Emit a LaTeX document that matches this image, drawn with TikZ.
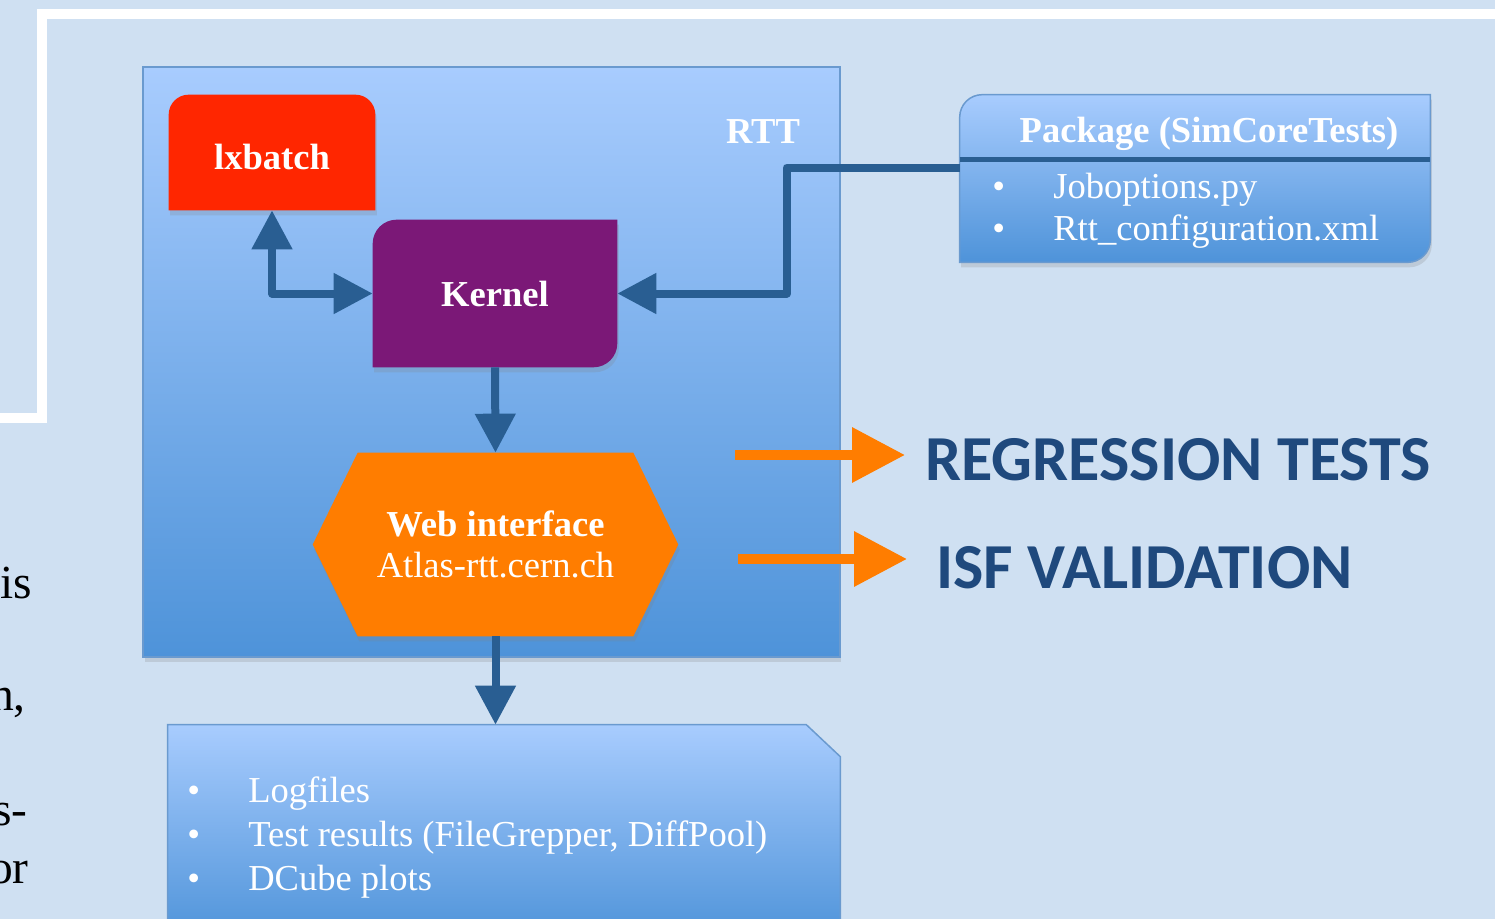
\documentclass[tikz,border=0pt]{standalone}
\usepackage{fontspec}
\setmainfont{Liberation Serif}
\newfontfamily\capsfont{Carlito}
\usetikzlibrary{arrows.meta,positioning,shadows,calc}

\definecolor{paperblue}{HTML}{CFE0F2}
\definecolor{platetop}{HTML}{A8CCFE}
\definecolor{platebottom}{HTML}{4E93D9}
\definecolor{plateedge}{HTML}{6A9ACF}
\definecolor{flowblue}{HTML}{295E92}
\definecolor{batchred}{HTML}{FF2600}
\definecolor{kernelpurple}{HTML}{7B1877}
\definecolor{weborange}{HTML}{FF7D00}
\definecolor{titleblue}{HTML}{1F497D}

\pgfdeclarelayer{paper}
\pgfdeclarelayer{plates}
\pgfsetlayers{paper,plates,main}

\begin{document}
\begin{tikzpicture}[
  x=0.02cm, y=-0.02cm,
  every node/.style={inner sep=0pt, text=white, font=\fontsize{20.8}{23}\selectfont},
  holder/.style={rectangle, align=center, font=\fontsize{20.8}{23}\selectfont\bfseries},
  batch/.style={holder, minimum width=4.12cm, minimum height=2.3cm, text height=0.7cm},
  kernelbox/.style={holder, minimum width=4.88cm, minimum height=2.94cm, text height=0.54cm},
  webbox/.style={holder, minimum width=7.3cm, minimum height=3.66cm},
  pkgbox/.style={rectangle, minimum width=9.4cm, minimum height=3.34cm},
  outbox/.style={rectangle, minimum width=13.44cm, minimum height=4.3cm},
  plate/.style={draw=plateedge, line width=0.03cm, top color=platetop, bottom color=platebottom},
  softshadow/.style={drop shadow={shadow xshift=0.03cm, shadow yshift=-0.1cm, opacity=0.22}},
  item/.style={anchor=base west},
  flow/.style={draw=flowblue, line width=0.16cm, line join=round,
    >={Triangle[length=0.78cm,width=0.78cm]}},
  hot/.style={draw=weborange, line width=0.2cm, -{Triangle[length=1.06cm,width=1.06cm]}},
  bigcaps/.style={anchor=base west, text=titleblue,
    font=\capsfont\bfseries\fontsize{36.5}{40}\selectfont},
  margintext/.style={anchor=base east, text=black, font=\fontsize{27}{32}\selectfont},
]
\useasboundingbox (0,0) rectangle (1495,919);

% Hintergrund
\begin{pgfonlayer}{paper}
  \fill[paperblue] (0,0) rectangle (1495,919);
  \draw[white, line width=0.2cm] (1510,14) -- (42,14) -- (42,418) -- (-10,418);
  \node[plate, softshadow, minimum width=13.94cm, minimum height=11.8cm] (rtt) at (491.5,362) {};
\end{pgfonlayer}

% Textreste links
\node[margintext, anchor=base west] (fragis) at (0,598) {is};
\node[margintext] (fragh) at (26,710) {h,};
\node[margintext] (frags) at (28,825) {s-};
\node[margintext] (fragor) at (29,883) {or};

% RTT-Bausteine
\node[holder] (rttlabel) at (763,132) {RTT};
\node[batch] (lx) at (272,152.5) {lxbatch};
\node[kernelbox] (kern) at (495,293.5) {Kernel};
\node[webbox] (web) at (495.5,544.5) {Web interface\\{\mdseries Atlas-rtt.cern.ch}};

% Paket
\node[pkgbox] (pkg) at (1195,178.5) {};
\node[anchor=base, font=\fontsize{20.8}{23}\selectfont\bfseries] (pkgtitle) at (1209,143) {Package (SimCoreTests)};
\node[item] (jobopt) at (992,198) {\makebox[1.22cm][l]{\textbullet}Joboptions.py};
\node[item] (rttconf) at (992,240) {\makebox[1.22cm][l]{\textbullet}Rtt\_configuration.xml};

% Ausgabe
\node[outbox] (out) at (504,832.5) {};
\node[item] (logs) at (187,802) {\makebox[1.22cm][l]{\textbullet}Logfiles};
\node[item] (tests) at (187,846) {\makebox[1.22cm][l]{\textbullet}Test results (FileGrepper, DiffPool)};
\node[item] (dcube) at (187,890) {\makebox[1.22cm][l]{\textbullet}DCube plots};

% Ergebnisse
\node[bigcaps] (regress) at (925,480) {REGRESSION TESTS};
\node[bigcaps] (isfval) at (936,588) {ISF VALIDATION};

% Flaechen der Bausteine
\begin{pgfonlayer}{plates}
  \fill[batchred, softshadow] (lx.south west) -- ([yshift=-0.4cm]lx.north west)
    arc[start angle=180, end angle=90, radius=0.4cm] -- ([xshift=-0.4cm]lx.north east)
    arc[start angle=90, end angle=0, radius=0.4cm] -- (lx.south east) -- cycle;
  \fill[kernelpurple, softshadow] (kern.south west) -- ([yshift=-0.48cm]kern.north west)
    arc[start angle=180, end angle=90, radius=0.48cm] -- (kern.north east)
    -- ([yshift=0.48cm]kern.south east)
    arc[start angle=0, end angle=-90, radius=0.48cm] -- cycle;
  \fill[weborange, softshadow] (web.west) -- ([xshift=0.9cm]web.north west)
    -- ([xshift=-0.9cm]web.north east) -- (web.east)
    -- ([xshift=-0.9cm]web.south east) -- ([xshift=0.9cm]web.south west) -- cycle;
  \path[plate, softshadow] (pkg.south west) -- ([yshift=-0.45cm]pkg.north west)
    arc[start angle=180, end angle=90, radius=0.45cm] -- (pkg.north east)
    -- ([yshift=0.45cm]pkg.south east)
    arc[start angle=0, end angle=-90, radius=0.45cm] -- cycle;
  \path[plate] (out.south west) -- (out.north west) -- ([xshift=-0.68cm]out.north east)
    -- ([yshift=-0.64cm]out.north east) -- (out.south east) -- cycle;
  \draw[flowblue, line width=0.09cm] ([yshift=-1.3cm]pkg.north west) -- ([yshift=-1.3cm]pkg.north east);
\end{pgfonlayer}

% Verbindungen
\coordinate (pkgport) at ([yshift=-1.46cm]pkg.north west);
\draw[flow, <->] (lx.south) |- (kern.west);
\draw[flow, ->] (pkgport) -- ++(-173,0) |- (kern.east);
\draw[flow, ->] (kern.south) -- (web.north);
\draw[flow, ->] (web.south) -- (web.south |- out.north);

% Pfeile zu den Ergebnissen
\coordinate (regfrom) at (735,455);
\coordinate (regto) at (905,455);
\coordinate (isffrom) at (738,559);
\coordinate (isfto) at (907,559);
\draw[hot] (regfrom) -- (regto);
\draw[hot] (isffrom) -- (isfto);

\end{tikzpicture}
\end{document}
